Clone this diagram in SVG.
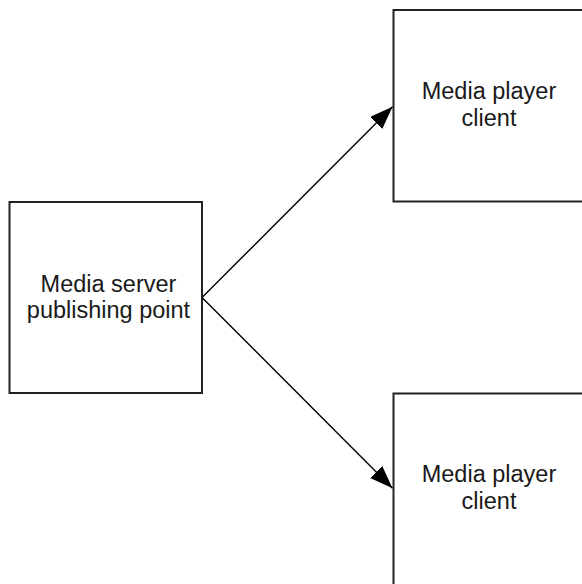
<svg xmlns="http://www.w3.org/2000/svg" width="582" height="584" viewBox="0 0 582 584">
<style>
.box{fill:#fff;stroke:#222;stroke-width:2}
.lbl{font-family:"Liberation Sans",Arial,sans-serif;font-size:23.5px;fill:#1a1a1a;text-anchor:middle}
.conn{stroke:#000;stroke-width:1.4;fill:none}
</style>
<defs>
<marker id="ah" markerUnits="userSpaceOnUse" markerWidth="24" markerHeight="18" refX="23" refY="8.5" orient="auto">
<path d="M0,0 L23,8.5 L0,17 z" fill="#000"/>
</marker>
</defs>
<rect width="582" height="584" fill="#fff"/>
<g id="server">
<rect class="box" x="9.5" y="202" width="192.5" height="191"/>
<text class="lbl" x="108.5" y="291.5">Media server</text>
<text class="lbl" x="108.5" y="318">publishing point</text>
</g>
<g id="client1">
<rect class="box" x="393.5" y="10" width="200" height="191.5"/>
<text class="lbl" x="489" y="98.5">Media player</text>
<text class="lbl" x="489" y="126">client</text>
</g>
<g id="client2">
<rect class="box" x="393.5" y="393.5" width="200" height="200"/>
<text class="lbl" x="489" y="481.5">Media player</text>
<text class="lbl" x="489" y="509">client</text>
</g>
<g id="connectors">
<line class="conn" x1="202" y1="297.5" x2="392.5" y2="106.7" marker-end="url(#ah)"/>
<line class="conn" x1="202" y1="297.5" x2="392.5" y2="488.3" marker-end="url(#ah)"/>
</g>
</svg>
